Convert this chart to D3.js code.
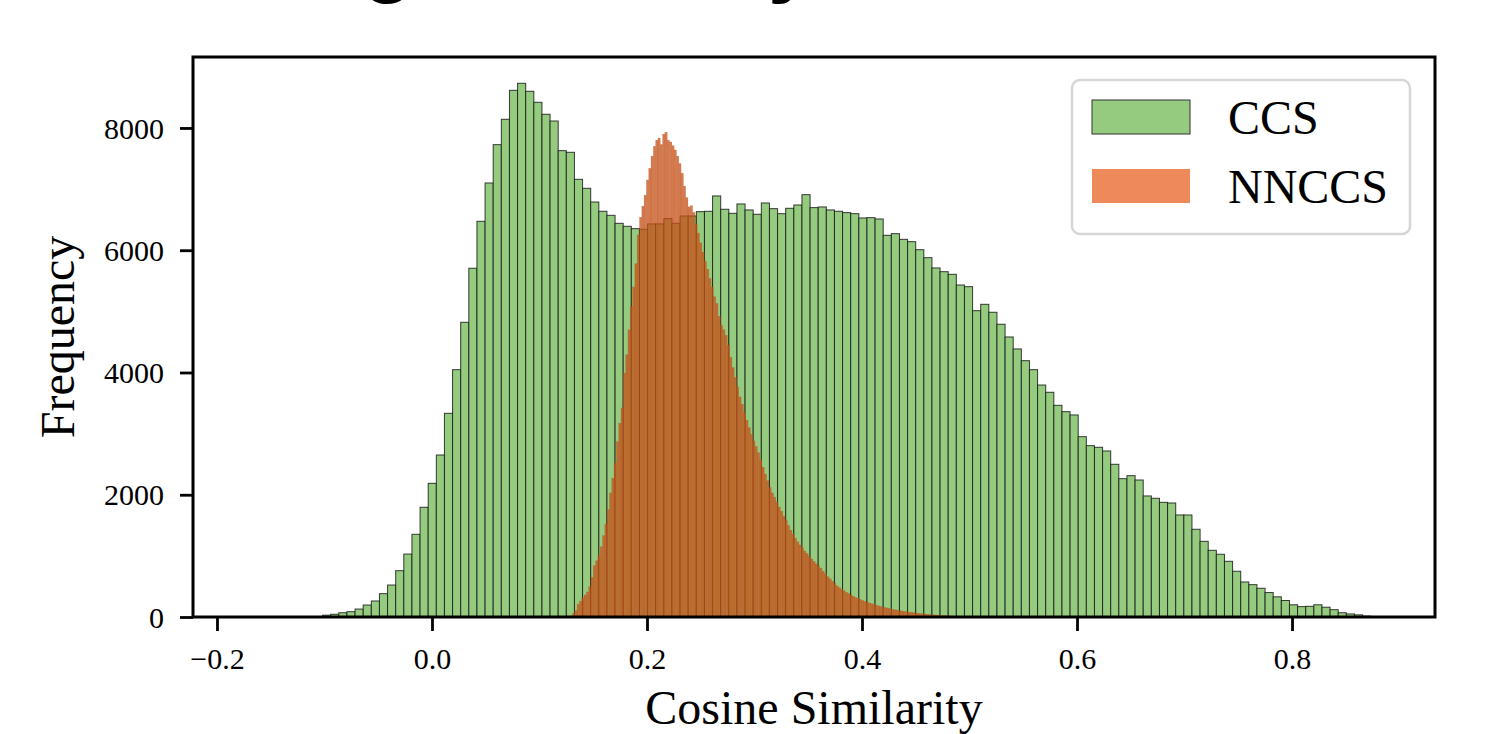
<!DOCTYPE html>
<html>
<head>
<meta charset="utf-8">
<script src="https://cdn.jsdelivr.net/npm/d3@7"></script>
<style>
  html, body { margin: 0; padding: 0; background: #ffffff; }
  svg { display: block; }
</style>
</head>
<body>
<svg id="chart" width="1485" height="734"></svg>
<script>
// ---------------- DATA ----------------
const seriesNames = ["CCS", "NNCCS"];

// CCS histogram: equal-width bins starting at ccsStart
const ccsStart = -0.1698;
const ccsBinWidth = 0.007558;
const ccsCounts = [
  1,0,0,0,0,1,2,4,8,
  30,45,70,87,130,196,262,382,523,758,1030,1353,1795,2187,2650,3332,4046,
  4821,5705,6473,7100,7727,8142,8616,8731,8600,8420,8224,8114,7629,7602,7160,7013,6789,6637,6571,6440,6391,6353,
  6343,6430,6430,6517,6440,6560,6560,
  6631,6637,6888,6670,6604,6757,6659,6588,6773,6680,6598,6686,6740,6909,6697,6708,6659,6637,6615,6598,6528,6533,6511,6244,6271,6178,6140,6009,5878,5710,5649,5606,5431,5404,5011,5115,4985,4789,
  4581,4385,4193,4046,3795,3676,3463,3359,3305,2950,2803,2776,2716,2498,2263,2312,2241,1980,1942,1876,1865,1669,1669,1435,1238,1091,1026,911,748,573,529,
  470,400,330,270,200,170,175,200,160,120,70,50,35,15,5
];

// NNCCS histogram: narrower equal-width bins starting at nnStart
const nnStart = 0.1285;
const nnBinWidth = 0.00215;
const nnCounts = [
  20,55,110,210,260,310,360,410,495,650,
  840,920,1010,1150,1330,1520,1760,2030,2270,2520,
  2870,3170,3420,3990,4290,4700,5080,5400,5780,6250,
  6540,6720,6900,7150,7340,7540,7700,7800,7835,7730,
  7900,7930,7800,7770,7710,7640,7540,7420,7260,7050,
  6860,6710,6730,6620,6430,6280,6120,5970,5820,5690,
  5540,5400,5240,5130,4920,4770,4700,4610,4450,4250,
  4080,3920,3760,3600,3480,3340,3220,3100,2990,2880,
  2790,2690,2570,2450,2340,2230,2120,2030,1960,1880,
  1800,1730,1650,1580,1500,1420,1350,1290,1230,1180,
  1130,1080,1040,990,950,910,870,835,800,750,
  705,660,625,585,550,510,480,455,430,405,
  385,360,340,320,306,290,272,258,245,230,
  218,205,195,182,172,162,153,145,135,126,
  119,112,105,99,93,87,81,76,71,66,
  61,57,53,49,45,41,38,35,32,29,
  26,23,21,19,16,14,12,10,8,7,
  5,4,3
];

const xTickValues = [-0.2, 0.0, 0.2, 0.4, 0.6, 0.8];
const xTickLabels = ["\u22120.2", "0.0", "0.2", "0.4", "0.6", "0.8"];
const yTickValues = [0, 2000, 4000, 6000, 8000];
const yTickLabels = ["0", "2000", "4000", "6000", "8000"];
const xLabel = "Cosine Similarity";
const yLabel = "Frequency";
const titleText = "Embedding Similarity";

// ---------------- LAYOUT ----------------
const svg = d3.select("#chart");
const plot = { left: 193, right: 1435, top: 57, bottom: 617 };
const serif = "'Liberation Serif', 'Times New Roman', serif";

const x = d3.scaleLinear().domain([-0.2223, 0.933]).range([plot.left, plot.right]);
const y = d3.scaleLinear().domain([0, 9161]).range([plot.bottom, plot.top]);

// cropped title (only descenders visible at the top, as in the reference)
const title = svg.append("text")
  .text(titleText)
  .attr("x", 0).attr("y", -13)
  .style("font-family", "'Liberation Sans', Arial, sans-serif")
  .style("font-weight", "bold")
  .style("font-size", "80px")
  .attr("fill", "#000");
(function placeTitle() {
  const n = title.node();
  const gi = titleText.indexOf("g");
  const yi = titleText.lastIndexOf("y");
  let eg = n.getExtentOfChar(gi), ey = n.getExtentOfChar(yi);
  const d = ey.x - (eg.x + eg.width / 2);
  const fs = 80 * 380 / d;
  title.style("font-size", fs + "px");
  eg = n.getExtentOfChar(gi);
  const gc = eg.x + eg.width / 2;
  title.attr("x", 388 - gc);
})();

// ---------------- BARS ----------------
const ccsBins = ccsCounts.map((c, i) => ({ x0: ccsStart + i * ccsBinWidth, x1: ccsStart + (i + 1) * ccsBinWidth, c }));
const nnBins = nnCounts.map((c, i) => ({ x0: nnStart + i * nnBinWidth, x1: nnStart + (i + 1) * nnBinWidth, c }));

svg.append("g").selectAll("rect").data(ccsBins).join("rect")
  .attr("x", d => x(d.x0))
  .attr("width", d => x(d.x1) - x(d.x0))
  .attr("y", d => y(d.c))
  .attr("height", d => y(0) - y(d.c))
  .attr("fill", "#95cb7e")
  .attr("stroke", "#1a1a1a")
  .attr("stroke-opacity", 0.85)
  .attr("stroke-width", 1);

svg.append("g").selectAll("rect").data(nnBins).join("rect")
  .attr("x", d => x(d.x0))
  .attr("width", d => x(d.x1) - x(d.x0))
  .attr("y", d => y(d.c))
  .attr("height", d => y(0) - y(d.c))
  .attr("fill", "rgb(200,82,25)")
  .attr("fill-opacity", 0.76)
  .attr("stroke", "rgb(180,75,25)")
  .attr("stroke-opacity", 0.35)
  .attr("stroke-width", 0.5);

// ---------------- AXES ----------------
const xAxis = d3.axisBottom(x).tickValues(xTickValues)
  .tickFormat((d, i) => xTickLabels[i]).tickSize(14).tickSizeOuter(0);
const gx = svg.append("g").attr("transform", `translate(0,${plot.bottom})`).call(xAxis);
gx.select(".domain").remove();
gx.selectAll(".tick line").attr("stroke", "#000").attr("stroke-width", 2.8);
gx.selectAll(".tick text")
  .attr("y", 52).attr("dy", null)
  .attr("fill", "#000")
  .style("font-family", serif).style("font-size", "30px");

const yAxis = d3.axisLeft(y).tickValues(yTickValues)
  .tickFormat((d, i) => yTickLabels[i]).tickSize(13).tickPadding(16).tickSizeOuter(0);
const gy = svg.append("g").attr("transform", `translate(${plot.left},0)`).call(yAxis);
gy.select(".domain").remove();
gy.selectAll(".tick line").attr("stroke", "#000").attr("stroke-width", 2.8);
gy.selectAll(".tick text")
  .attr("dy", "0.34em")
  .attr("fill", "#000")
  .style("font-family", serif).style("font-size", "30px");

// frame
svg.append("rect")
  .attr("x", plot.left).attr("y", plot.top)
  .attr("width", plot.right - plot.left).attr("height", plot.bottom - plot.top)
  .attr("fill", "none").attr("stroke", "#000").attr("stroke-width", 3);

// axis labels
svg.append("text").text(xLabel)
  .attr("x", (plot.left + plot.right) / 2).attr("y", 724)
  .attr("text-anchor", "middle")
  .style("font-family", serif).style("font-size", "48px").attr("fill", "#000");

svg.append("text").text(yLabel)
  .attr("transform", `translate(74,${(plot.top + plot.bottom) / 2}) rotate(-90)`)
  .attr("text-anchor", "middle")
  .style("font-family", serif).style("font-size", "48px").attr("fill", "#000");

// ---------------- LEGEND ----------------
const lg = svg.append("g");
lg.append("rect")
  .attr("x", 1072).attr("y", 80).attr("width", 338).attr("height", 154)
  .attr("rx", 8).attr("ry", 8)
  .attr("fill", "#ffffff").attr("fill-opacity", 0.85)
  .attr("stroke", "#d6d6d6").attr("stroke-width", 2.5);
const legendItems = [
  { name: seriesNames[0], fill: "#95cb7e", stroke: "#333333", y: 100 },
  { name: seriesNames[1], fill: "#ee8a5a", stroke: "none", y: 169 }
];
legendItems.forEach(it => {
  lg.append("rect")
    .attr("x", 1092).attr("y", it.y).attr("width", 98).attr("height", 34)
    .attr("fill", it.fill).attr("stroke", it.stroke).attr("stroke-width", 1);
  lg.append("text").text(it.name)
    .attr("x", 1228).attr("y", it.y + 34)
    .style("font-family", serif).style("font-size", "48px").attr("fill", "#000");
});
</script>
</body>
</html>
